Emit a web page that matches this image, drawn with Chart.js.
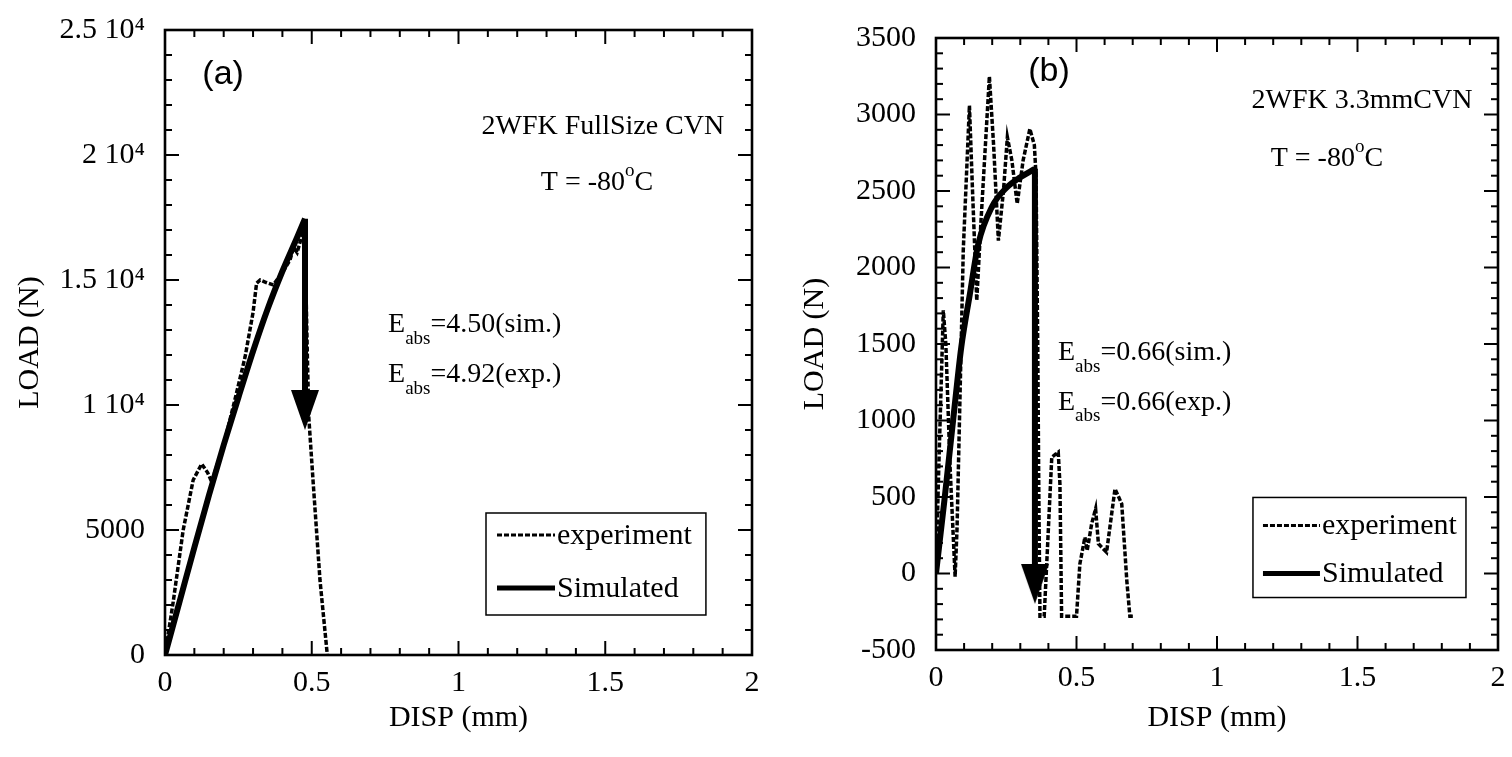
<!DOCTYPE html>
<html>
<head>
<meta charset="utf-8">
<title>2WFK CVN load-displacement</title>
<script src="https://cdn.jsdelivr.net/npm/chart.js@4.4.0/dist/chart.umd.min.js"></script>
<style>
  html, body { margin: 0; padding: 0; background: #fff; }
  .wrap { position: relative; width: 1512px; height: 757px; overflow: hidden; }
  canvas { display: block; position: absolute; top: 0; }
  #chartA { left: 0; }
  #chartB { left: 756px; }
</style>
</head>
<body>
<div class="wrap">
  <canvas id="chartA" width="772" height="757"></canvas>
  <canvas id="chartB" width="756" height="757"></canvas>
</div>
<script>
// (a) full size CVN, T = -80C
const dispExpA = [0, 0.028, 0.062, 0.096, 0.125, 0.145, 0.159, 0.2, 0.24, 0.273, 0.3, 0.312, 0.324, 0.345, 0.369,
                  0.4, 0.426, 0.438, 0.45, 0.47, 0.478, 0.485, 0.49, 0.505, 0.528, 0.553];
const loadExpA = [0, 2130, 5000, 7000, 7640, 7300, 6930, 8400, 10300, 11930, 13700, 14870, 15000, 14900, 14800,
                  15300, 15800, 16300, 16100, 16900, 16000, 12000, 9500, 6870, 3000, 0];
const dispSimA = [0, 0.05, 0.1, 0.15, 0.2, 0.25, 0.3, 0.35, 0.4, 0.45, 0.477, 0.477];
const loadSimA = [0, 2150, 4300, 6400, 8400, 10300, 12150, 13850, 15350, 16700, 17450, 9600];

// (b) 3.3 mm CVN, T = -80C
const dispExpB = [0, 0.01, 0.026, 0.035, 0.05, 0.068, 0.075, 0.097, 0.119, 0.13, 0.145, 0.16, 0.19, 0.205, 0.222,
                  0.24, 0.254, 0.27, 0.289, 0.31, 0.334, 0.35, 0.356, 0.362, 0.366, 0.37, 0.385, 0.394, 0.412,
                  0.435, 0.441, 0.447, 0.5, 0.512, 0.53, 0.538, 0.554, 0.568, 0.578, 0.607, 0.637, 0.661, 0.679,
                  0.69, 0.702];
const loadExpB = [0, 700, 1720, 1500, 700, -20, 300, 2111, 3059, 2500, 1784, 2300, 3248, 2800, 2176,
                  2500, 2852, 2700, 2416, 2700, 2906, 2800, 2600, 1500, 500, -280, -280, 63, 760,
                  793, 586, -280, -280, 63, 237, 150, 325, 423, 194, 139, 553, 455, -46,
                  -280, -280];
const dispSimB = [0, 0.03, 0.062, 0.09, 0.12, 0.15, 0.2, 0.25, 0.3, 0.352, 0.352];
const loadSimB = [0, 480, 1020, 1480, 1820, 2150, 2400, 2520, 2590, 2645, -100];

const xTicks = [0, 0.5, 1, 1.5, 2];
const yTicksA = [0, 5000, 10000, 15000, 20000, 25000];
const yLabelsA = ['0', '5000', '1 10⁴', '1.5 10⁴', '2 10⁴', '2.5 10⁴'];
const yTicksB = [-500, 0, 500, 1000, 1500, 2000, 2500, 3000, 3500];

const SERIF = '"Liberation Serif", "Times New Roman", serif';
const SANS = '"Liberation Sans", Arial, sans-serif';

const toXY = (xs, ys) => xs.map((x, i) => ({ x: x, y: ys[i] }));

// arrowhead sprite; image centre sits 15px above the tip so the shaft ends inside the head
function arrowHead(w, h) {
  const c = document.createElement('canvas');
  c.width = w;
  c.height = 2 * h - 30;
  const g = c.getContext('2d');
  g.fillStyle = '#000';
  g.beginPath();
  g.moveTo(0, 0);
  g.lineTo(w, 0);
  g.lineTo(w / 2, h);
  g.closePath();
  g.fill();
  return c;
}

// box frame with inward major/minor ticks on all four sides
const frameTicks = {
  id: 'frameTicks',
  afterDatasetsDraw(chart, args, opts) {
    const { ctx, chartArea: a, scales: { x, y } } = chart;
    ctx.save();
    ctx.strokeStyle = '#000';
    ctx.lineWidth = 2;
    const seg = (x1, y1, x2, y2) => { ctx.beginPath(); ctx.moveTo(x1, y1); ctx.lineTo(x2, y2); ctx.stroke(); };
    const isMajor = (v, step) => Math.abs(v / step - Math.round(v / step)) < 1e-6;

    let n = Math.round((x.max - x.min) / opts.xMinor);
    for (let i = 0; i <= n; i++) {
      const v = x.min + i * opts.xMinor;
      const p = x.getPixelForValue(v);
      const len = isMajor(v, opts.xMajor) ? 14 : 7;
      seg(p, a.bottom, p, a.bottom - len);
      seg(p, a.top, p, a.top + len);
    }
    n = Math.round((y.max - y.min) / opts.yMinor);
    for (let i = 0; i <= n; i++) {
      const v = y.min + i * opts.yMinor;
      const p = y.getPixelForValue(v);
      const len = isMajor(v, opts.yMajor) ? 14 : 7;
      seg(a.left, p, a.left + len, p);
      seg(a.right, p, a.right - len, p);
    }
    ctx.lineWidth = 2.6;
    ctx.strokeRect(a.left, a.top, a.right - a.left, a.bottom - a.top);
    ctx.restore();
  }
};

// text with sub/superscript pieces
function drawParts(ctx, parts, px, py, size, family, align) {
  const fontOf = p => (p.sub || p.sup ? Math.round(size * 0.68) : size) + 'px ' + family;
  let total = 0;
  for (const p of parts) { ctx.font = fontOf(p); total += ctx.measureText(p.t).width; }
  let cx = align === 'center' ? px - total / 2 : px;
  ctx.textAlign = 'left';
  ctx.textBaseline = 'middle';
  for (const p of parts) {
    ctx.font = fontOf(p);
    const dy = p.sub ? size * 0.5 : (p.sup ? -size * 0.42 : 0);
    ctx.fillText(p.t, cx, py + dy);
    cx += ctx.measureText(p.t).width;
  }
}

// annotations and the boxed legend
const notes = {
  id: 'notes',
  afterDraw(chart, args, opts) {
    const { ctx, scales: { x, y } } = chart;
    ctx.save();
    ctx.fillStyle = '#000';
    for (const it of opts.items) {
      drawParts(ctx, it.parts, x.getPixelForValue(it.x), y.getPixelForValue(it.y),
                it.size, it.family || SERIF, it.align || 'left');
    }
    const lg = opts.legend;
    const L = x.getPixelForValue(lg.x0), R = x.getPixelForValue(lg.x1);
    const T = y.getPixelForValue(lg.y0), B = y.getPixelForValue(lg.y1);
    ctx.strokeStyle = '#000';
    ctx.lineWidth = 1.5;
    ctx.strokeRect(L, T, R - L, B - T);
    chart.data.datasets.filter(ds => ds.label).forEach((ds, i) => {
      const ry = T + lg.rows[i];
      ctx.save();
      ctx.lineWidth = ds.borderDash ? 3 : 5;
      ctx.setLineDash(ds.borderDash || []);
      ctx.beginPath();
      ctx.moveTo(L + lg.sample[0], ry);
      ctx.lineTo(L + lg.sample[1], ry);
      ctx.stroke();
      ctx.restore();
      ctx.font = '30px ' + SERIF;
      ctx.textAlign = 'left';
      ctx.textBaseline = 'middle';
      ctx.fillText(ds.label, L + lg.textAt, ry + 1);
    });
    ctx.restore();
  }
};

function makeChart(id, cfg) {
  const sim = toXY(cfg.dispSim, cfg.loadSim);
  const arrow = arrowHead(28, 40);
  const tickFont = { family: SERIF, size: 30 };
  return new Chart(document.getElementById(id), {
    type: 'line',
    data: {
      datasets: [
        {
          label: 'experiment',
          data: toXY(cfg.dispExp, cfg.loadExp),
          borderColor: '#000',
          borderWidth: 3.5,
          borderDash: [5, 2],
          pointRadius: 0,
          tension: 0,
          order: 2
        },
        {
          // smooth loading part of the simulation
          label: 'Simulated',
          data: sim.slice(0, -1),
          borderColor: '#000',
          borderWidth: 6,
          cubicInterpolationMode: 'monotone',
          pointRadius: 0,
          order: 0
        },
        {
          // fracture: vertical drop ending in an arrowhead
          label: '',
          data: sim.slice(-2),
          borderColor: '#000',
          backgroundColor: '#000',
          borderWidth: 6,
          pointStyle: c => (c.dataIndex === 1 ? arrow : 'circle'),
          pointRadius: c => (c.dataIndex === 1 ? 1 : 0),
          tension: 0,
          order: 1
        }
      ]
    },
    options: {
      responsive: false,
      animation: false,
      events: [],
      layout: { padding: cfg.padding },
      plugins: {
        legend: { display: false },
        tooltip: { enabled: false },
        frameTicks: cfg.ticks,
        notes: cfg.notes
      },
      scales: {
        x: {
          type: 'linear',
          min: 0,
          max: 2,
          afterBuildTicks: s => { s.ticks = xTicks.map(v => ({ value: v })); },
          afterFit: s => { s.height = cfg.xAxisHeight; s.paddingLeft = 0; s.paddingRight = 0; },
          grid: { display: false, drawTicks: false },
          border: { display: false },
          ticks: { font: tickFont, color: '#000', padding: 10, maxRotation: 0, callback: v => String(v) },
          title: { display: true, text: 'DISP (mm)', font: tickFont, color: '#000', padding: { top: 0, bottom: 21 } }
        },
        y: {
          type: 'linear',
          min: cfg.yTicks[0],
          max: cfg.yTicks[cfg.yTicks.length - 1],
          afterBuildTicks: s => { s.ticks = cfg.yTicks.map(v => ({ value: v })); },
          afterFit: s => { s.width = cfg.yAxisWidth; s.paddingTop = 0; s.paddingBottom = 0; },
          grid: { display: false, drawTicks: false },
          border: { display: false },
          ticks: { font: tickFont, color: '#000', padding: 20, callback: cfg.yLabel },
          title: { display: true, text: 'LOAD (N)', font: tickFont, color: '#000', padding: { top: cfg.yTitlePad, bottom: 0 } }
        }
      }
    },
    plugins: [frameTicks, notes]
  });
}

const eAbs = (x, y, val) => ({ x: x, y: y, size: 28, parts: [{ t: 'E' }, { t: 'abs', sub: true }, { t: val }] });
const tempLine = (x, y) => ({ x: x, y: y, size: 28, align: 'center', parts: [{ t: 'T = -80' }, { t: 'o', sup: true }, { t: 'C' }] });

makeChart('chartA', {
  dispExp: dispExpA, loadExp: loadExpA, dispSim: dispSimA, loadSim: loadSimA,
  yTicks: yTicksA,
  yLabel: v => { const i = yTicksA.indexOf(v); return i >= 0 ? yLabelsA[i] : ''; },
  padding: { top: 30, right: 20, left: 0, bottom: 0 },
  yAxisWidth: 165, xAxisHeight: 102, yTitlePad: 12,
  ticks: { xMinor: 0.1, xMajor: 0.5, yMinor: 1000, yMajor: 5000 },
  notes: {
    items: [
      { x: 0.198, y: 23200, size: 34, family: SANS, align: 'center', parts: [{ t: '(a)' }] },
      { x: 1.492, y: 21120, size: 28, align: 'center', parts: [{ t: '2WFK FullSize CVN' }] },
      tempLine(1.472, 18880),
      eAbs(0.76, 13200, '=4.50(sim.)'),
      eAbs(0.76, 11200, '=4.92(exp.)')
    ],
    legend: { x0: 1.0937, x1: 1.843, y0: 5680, y1: 1600, rows: [22, 75], sample: [11, 69], textAt: 71 }
  }
});

makeChart('chartB', {
  dispExp: dispExpB, loadExp: loadExpB, dispSim: dispSimB, loadSim: loadSimB,
  yTicks: yTicksB,
  yLabel: v => String(v),
  padding: { top: 38, right: 14, left: 0, bottom: 0 },
  yAxisWidth: 180, xAxisHeight: 107, yTitlePad: 41,
  ticks: { xMinor: 0.1, xMajor: 0.5, yMinor: 100, yMajor: 500 },
  notes: {
    items: [
      { x: 0.402, y: 3281, size: 34, family: SANS, align: 'center', parts: [{ t: '(b)' }] },
      { x: 1.516, y: 3091, size: 28, align: 'center', parts: [{ t: '2WFK 3.3mmCVN' }] },
      tempLine(1.391, 2712),
      eAbs(0.434, 1444, '=0.66(sim.)'),
      eAbs(0.434, 1118, '=0.66(exp.)')
    ],
    legend: { x0: 1.128, x1: 1.886, y0: 497, y1: -157, rows: [28, 76], sample: [10, 67], textAt: 69 }
  }
});
</script>
</body>
</html>
